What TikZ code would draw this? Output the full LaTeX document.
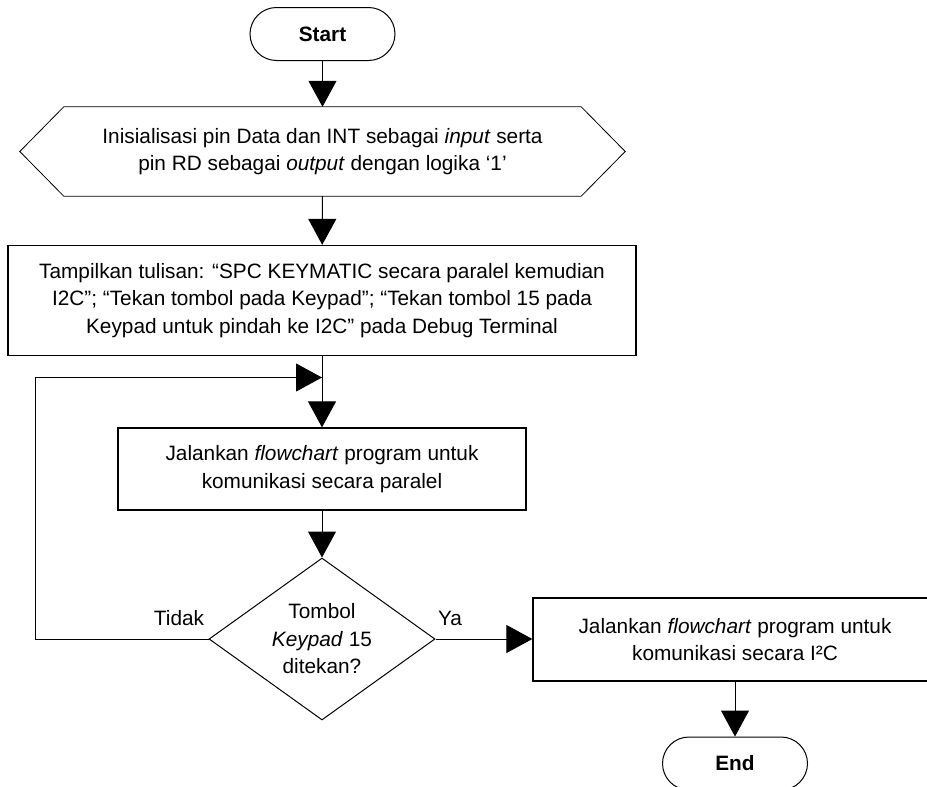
\documentclass[tikz,border=0pt]{standalone}
\usepackage{fontspec}
\setmainfont{Liberation Sans}
\usetikzlibrary{shapes.geometric,arrows.meta}
\begin{document}
\begin{tikzpicture}[x=1pt,y=-1pt,
  every node/.style={font=\fontsize{20.8}{27.5}\selectfont, align=center, inner sep=0pt},
  terminal/.style={draw, rectangle, rounded corners=26.5pt, minimum width=145pt,
    minimum height=53pt, line width=1pt, font=\fontsize{20.8}{27.5}\selectfont\bfseries},
  proc/.style={draw, rectangle, line width=1.3pt},
  decision/.style={draw, diamond, aspect=1.4, line width=1pt},
  flow/.style={line width=1pt, -{Triangle[length=26pt,width=28pt]}},
  link/.style={line width=1pt}
]
\useasboundingbox (0,0) rectangle (927,787);

% Terminals, steps and the decision
\node[terminal] (start) at (322.5,34) {Start};

\node[minimum width=605pt, minimum height=89pt] (init) at (322.5,151.5)
  {Inisialisasi pin Data dan INT sebagai \textit{input} serta\\
   pin RD sebagai \textit{output} dengan logika ‘1’};
\draw[line width=0.8pt] (init.west) -- ([xshift=44pt]init.north west)
  -- ([xshift=-44pt]init.north east) -- (init.east)
  -- ([xshift=-44pt]init.south east) -- ([xshift=44pt]init.south west) -- cycle;

\node[proc, minimum width=628pt, minimum height=110pt] (disp) at (322,300.5)
  {Tampilkan tulisan: “SPC KEYMATIC secara paralel kemudian\\
   I2C”; “Tekan tombol pada Keypad”; “Tekan tombol 15 pada\\
   Keypad untuk pindah ke I2C” pada Debug Terminal};

\node[proc, minimum width=408pt, minimum height=82pt] (par) at (322,469)
  {Jalankan \textit{flowchart} program untuk\\ komunikasi secara paralel};

\node[decision, minimum width=226pt, minimum height=162pt] (dec) at (322,639)
  {Tombol\\ \textit{Keypad} 15\\ ditekan?};

\node[proc, minimum width=404pt, minimum height=83pt] (i2c) at (735,639.5)
  {Jalankan \textit{flowchart} program untuk\\ komunikasi secara I²C};

\node[terminal] (fin) at (735,763.5) {End};

% Branch labels
\node (no) at (179,618) {Tidak};
\node (yes) at (450,618) {Ya};

% Connectors
\coordinate (merge) at (322,377.5);
\draw[flow] (start) -- (init);
\draw[flow] (init) -- (disp);
\draw[flow] (disp) -- (par);
\draw[flow] (par) -- (dec);
\draw[flow] (dec.west) -- (35,639) |- (merge);
\draw[flow] (dec.east) -- (dec.east -| i2c.west);
\draw[flow] (i2c.south -| fin.north) -- (fin.north);
\end{tikzpicture}
\end{document}
